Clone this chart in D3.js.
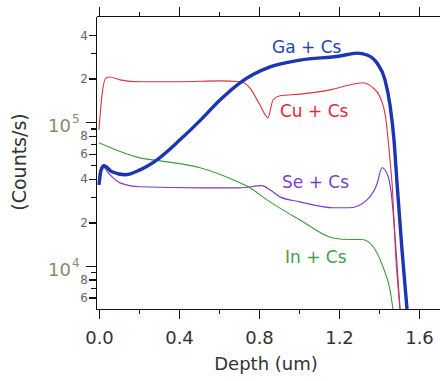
<!DOCTYPE html>
<html lang="en">
<head>
<meta charset="utf-8">
<title>depth profile</title>
<script src="https://cdn.jsdelivr.net/npm/d3@7"></script>
<style>
    body { margin: 0; background: #fff; }
    .axis path, .axis line { fill: none; stroke: #111; stroke-width: 1.3px; shape-rendering: crispEdges; }
    text { font-family: "DejaVu Sans", Verdana, sans-serif; }
</style>
</head>
<body>
<div id="chart"></div>
<script>
// series: depth in um, counts/s
var cuDepth = [0, 0.015, 0.035, 0.055, 0.105, 0.205, 0.405, 0.605, 0.705, 0.755, 0.805, 0.845, 0.87, 0.905, 1.005, 1.155, 1.28, 1.315, 1.365, 1.405, 1.435, 1.455, 1.465, 1.485, 1.505];
var cuCounts = [88000, 154000, 202000, 205000, 196000, 190000, 190000, 193000, 190000, 172000, 131000, 107000, 142000, 152000, 156000, 167000, 184000, 187000, 175000, 149000, 103000, 54500, 37700, 11000, 5000];

var gaDepth = [0, 0.01, 0.025, 0.065, 0.13, 0.205, 0.29, 0.405, 0.505, 0.605, 0.705, 0.855, 1.005, 1.205, 1.29, 1.34, 1.39, 1.43, 1.455, 1.475, 1.49, 1.515, 1.54];
var gaCounts = [36500, 46000, 49500, 45000, 42900, 46400, 54500, 75000, 102000, 142000, 187000, 241000, 269000, 287000, 301000, 292000, 257000, 196000, 131000, 75000, 37700, 12900, 5000];

var seDepth = [0, 0.015, 0.055, 0.105, 0.205, 0.505, 0.705, 0.815, 0.855, 0.905, 1.005, 1.17, 1.255, 1.34, 1.39, 1.415, 1.445, 1.465, 1.485, 1.505];
var seCounts = [42800, 49500, 42800, 37700, 35400, 34800, 34800, 36000, 33700, 30100, 27800, 25300, 25300, 28700, 37000, 48000, 42000, 28700, 12900, 5000];

var inDepth = [0, 0.205, 0.305, 0.505, 0.67, 0.755, 0.84, 1.005, 1.17, 1.255, 1.315, 1.37, 1.42, 1.455, 1.47];
var inCounts = [71500, 56200, 53600, 48000, 39600, 34800, 28700, 20800, 15600, 15200, 15200, 13600, 9800, 6800, 5000];

var seriesNames = ["In + Cs", "Se + Cs", "Cu + Cs", "Ga + Cs"];
var xMajor = [0, 0.4, 0.8, 1.2, 1.6];
var xMinor = [0.2, 0.6, 1.0, 1.4];
var yLabeled = [400000, 200000, 80000, 60000, 40000, 20000, 8000, 6000];
var yDecades = [100000, 10000];
var yMinor = [300000, 90000, 70000, 50000, 30000, 9000, 7000];

var width = 440, height = 381;
var pLeft = 96, pRight = 440, pTop = 16, pBottom = 309;

var svg = d3.select("#chart").append("svg")
    .attr("width", width)
    .attr("height", height);

var x = d3.scaleLinear().domain([-0.015, 1.705]).range([pLeft, pRight]);
var y = d3.scaleLog().domain([5000, 545000]).range([pBottom, pTop]);

var series = [
    {name: seriesNames[0], depth: inDepth, counts: inCounts, color: "#3f9a3f", width: 1.1, lx: 285, ly: 263, lc: "#44a044"},
    {name: seriesNames[1], depth: seDepth, counts: seCounts, color: "#7a3fc8", width: 1.2, lx: 282, ly: 188, lc: "#7a3fc8"},
    {name: seriesNames[2], depth: cuDepth, counts: cuCounts, color: "#dd3340", width: 1.1, lx: 280, ly: 117, lc: "#dd2a36"},
    {name: seriesNames[3], depth: gaDepth, counts: gaCounts, color: "#1c35b0", width: 3.4, lx: 272, ly: 53, lc: "#2544b8"}
];

svg.append("clipPath").attr("id", "clip")
  .append("rect")
    .attr("x", pLeft).attr("y", pTop)
    .attr("width", pRight - pLeft).attr("height", pBottom - pTop);

var line = d3.line()
    .x(function(d) { return x(d[0]); })
    .y(function(d) { return y(d[1]); })
    .curve(d3.curveMonotoneX);

var plot = svg.append("g").attr("clip-path", "url(#clip)");

series.forEach(function(s) {
    var pts = s.depth.map(function(d, i) { return [d, s.counts[i]]; });
    plot.append("path")
        .datum(pts)
        .attr("d", line)
        .attr("fill", "none")
        .attr("stroke", s.color)
        .attr("stroke-width", s.width)
        .attr("stroke-linejoin", "round");
    svg.append("text")
        .attr("x", s.lx)
        .attr("y", s.ly)
        .style("font-size", "17px")
        .style("fill", s.lc)
        .text(s.name);
});

// bottom axis
svg.append("g")
    .attr("class", "axis")
    .attr("transform", "translate(0," + pBottom + ")")
    .call(d3.axisBottom(x).tickValues(xMajor).tickSize(10).tickSizeOuter(0).tickFormat(d3.format(".1f")))
    .selectAll("text")
    .attr("y", 22)
    .attr("dy", "0.71em")
    .style("font-size", "18px")
    .style("fill", "#333");

svg.append("g")
    .attr("class", "axis")
    .attr("transform", "translate(0," + pBottom + ")")
    .call(d3.axisBottom(x).tickValues(xMinor).tickSize(5).tickSizeOuter(0).tickFormat(""));

// top axis
svg.append("g")
    .attr("class", "axis")
    .attr("transform", "translate(0," + pTop + ")")
    .call(d3.axisTop(x).tickValues(xMajor).tickSize(9).tickSizeOuter(0).tickFormat(""));

svg.append("g")
    .attr("class", "axis")
    .attr("transform", "translate(0," + pTop + ")")
    .call(d3.axisTop(x).tickValues(xMinor).tickSize(4).tickSizeOuter(0).tickFormat(""));

// left axis
var yAxisG = svg.append("g")
    .attr("class", "axis")
    .attr("transform", "translate(" + pLeft + ",0)");

yAxisG.call(d3.axisLeft(y).tickValues(yDecades).tickSize(10).tickSizeOuter(0).tickFormat(""));

yAxisG.append("g")
    .call(d3.axisLeft(y).tickValues(yLabeled).tickSize(7).tickSizeOuter(0).tickFormat(function(d) {
        return String(d / Math.pow(10, Math.floor(Math.log10(d))));
    }))
    .call(function(g) { g.select(".domain").remove(); })
    .selectAll("text")
    .attr("x", -8)
    .style("font-size", "12px")
    .style("fill", "#666");

yAxisG.append("g")
    .call(d3.axisLeft(y).tickValues(yMinor).tickSize(5).tickSizeOuter(0).tickFormat(""))
    .call(function(g) { g.select(".domain").remove(); });

yDecades.forEach(function(v) {
    var t = svg.append("text")
        .attr("x", 48)
        .attr("y", y(v) + 10)
        .style("font-size", "18px")
        .style("fill", "#8a8a6a");
    t.append("tspan").text("10");
    t.append("tspan")
        .attr("dy", "-0.75em")
        .attr("dx", "1")
        .style("font-size", "12px")
        .text(String(Math.round(Math.log10(v))));
});

// axis titles
svg.append("text")
    .attr("transform", "translate(26," + 162 + ") rotate(-90)")
    .attr("text-anchor", "middle")
    .style("font-size", "19px")
    .style("fill", "#333")
    .text("(Counts/s)");

svg.append("text")
    .attr("x", 266)
    .attr("y", 370)
    .attr("text-anchor", "middle")
    .style("font-size", "18px")
    .style("fill", "#333")
    .text("Depth (um)");
</script>
</body>
</html>
